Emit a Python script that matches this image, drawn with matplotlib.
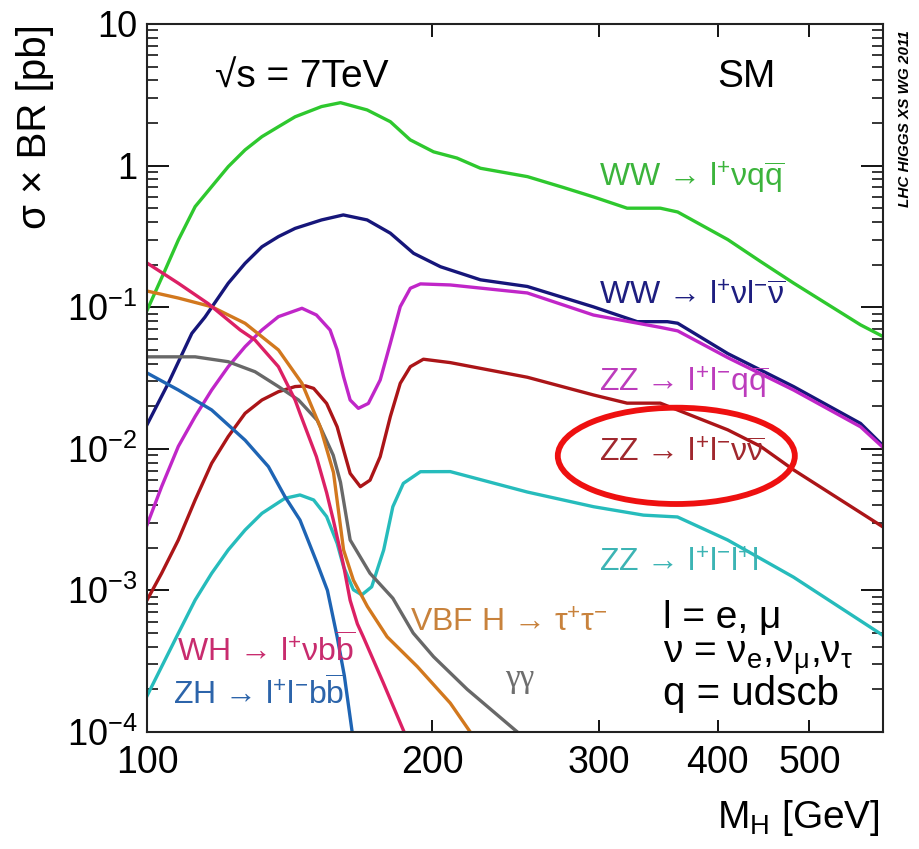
import matplotlib
matplotlib.use('Agg')
import matplotlib.pyplot as plt
from matplotlib.patches import Ellipse
from matplotlib.ticker import FixedLocator, FixedFormatter, NullLocator, NullFormatter, LogLocator

plt.rcParams['font.family'] = ['Liberation Sans', 'DejaVu Sans']
plt.rcParams['mathtext.fontset'] = 'custom'
plt.rcParams['mathtext.rm'] = 'Liberation Sans'
plt.rcParams['mathtext.it'] = 'Liberation Sans'
plt.rcParams['mathtext.bf'] = 'Liberation Sans:bold'

# sigma x BR [pb] versus M_H [GeV]
ww_lvqq_m = [100, 104.5, 107.9, 112.4, 117, 121.8, 126.9, 132.2, 137.6, 143.3, 152.8, 160, 170.7,
             180.6, 189.5, 200.6, 212.3, 224.8, 252, 275, 296, 321, 348, 363, 410, 444, 481, 566, 598]
ww_lvqq_xs = [0.095, 0.183, 0.298, 0.513, 0.71, 0.982, 1.29, 1.60, 1.88, 2.21, 2.61, 2.78, 2.47,
              2.04, 1.52, 1.25, 1.13, 0.957, 0.835, 0.70, 0.60, 0.50, 0.50, 0.47, 0.30, 0.21, 0.148,
              0.075, 0.062]

ww_lvlv_m = [100, 105.3, 111.5, 115.1, 121.8, 126.9, 132.2, 137.6, 143.3, 152.8, 161.1, 170.7,
             180.6, 191.1, 204, 224.8, 251.9, 295.8, 329, 354, 363, 410, 481, 566, 598]
ww_lvlv_xs = [0.0148, 0.029, 0.0653, 0.085, 0.1475, 0.204, 0.267, 0.315, 0.36, 0.413, 0.448, 0.413,
              0.333, 0.24, 0.193, 0.156, 0.14, 0.1005, 0.079, 0.079, 0.077, 0.047, 0.0275, 0.0151, 0.0105]

zz_llqq_m = [100, 103.6, 107.9, 112.4, 117, 121.8, 126.9, 132.2, 137.6, 145.7, 150.9, 156, 158.7,
             161.2, 163.8, 167.1, 171.2, 176.2, 180.6, 185, 189.6, 194.3, 208.9, 251.9, 295.8, 348,
             363, 410, 481, 566, 598]
zz_llqq_xs = [0.0029, 0.0054, 0.0104, 0.0169, 0.026, 0.038, 0.0526, 0.069, 0.0857, 0.0982, 0.0881,
              0.069, 0.0499, 0.0323, 0.0221, 0.0193, 0.0209, 0.0306, 0.0556, 0.1009, 0.136, 0.146,
              0.1435, 0.126, 0.088, 0.072, 0.068, 0.044, 0.026, 0.0143, 0.0102]

zz_llvv_m = [100, 103.6, 107.9, 112.4, 117, 121.8, 126.9, 132.2, 137.6, 143.3, 147, 149.9, 154.7,
             158.7, 161.2, 163.8, 167.9, 171.9, 176.2, 180.6, 185, 189.6, 195.7, 208.9, 251.9, 295.8,
             321, 348, 410, 444, 481, 598]
zz_llvv_xs = [0.000855, 0.00132, 0.00227, 0.00435, 0.0079, 0.0122, 0.0178, 0.0221, 0.0253, 0.0275,
              0.0278, 0.0267, 0.0209, 0.0143, 0.0098, 0.0067, 0.0054, 0.0060, 0.0088, 0.0169, 0.029,
              0.038, 0.0429, 0.0406, 0.032, 0.024, 0.021, 0.021, 0.0136, 0.0104, 0.0071, 0.0028]

zz_4l_m = [100, 103.6, 107.9, 112.4, 117, 121.8, 126.9, 132.2, 139.8, 145, 149.9, 154.7, 158.7,
           161.2, 165.1, 168.5, 172.6, 177.7, 181.7, 186.4, 194.3, 208.9, 251.9, 295.8, 334, 362.8,
           409.8, 481, 598]
zz_4l_xs = [0.00018, 0.000289, 0.000498, 0.000855, 0.00132, 0.00193, 0.00267, 0.0035, 0.00447,
            0.00472, 0.00435, 0.00332, 0.00215, 0.00147, 0.00101, 0.00093, 0.00106, 0.00193, 0.0039,
            0.0057, 0.00689, 0.0069, 0.00495, 0.0039, 0.0034, 0.0033, 0.00227, 0.00124, 0.00048]

wh_m = [100, 107.9, 116, 125.4, 130, 137.6, 143.3, 145, 150.9, 154.7, 157.3, 161.2, 163.8, 166.7,
        169.1, 177.5, 186.4]
wh_xs = [0.205, 0.1475, 0.106, 0.069, 0.0586, 0.038, 0.0221, 0.0178, 0.0088, 0.0049, 0.0031, 0.0015,
         0.00085, 0.00058, 0.00047, 0.000223, 0.000103]

zh_m = [100, 107.9, 117, 126.9, 134.3, 139.8, 145, 151.2, 155, 158.7, 161.5, 164.6]
zh_xs = [0.0343, 0.026, 0.0188, 0.0115, 0.00748, 0.00459, 0.00314, 0.00155, 0.0010, 0.00047,
         0.00025, 0.0001]

vbf_m = [100, 107.9, 117, 126.9, 137.6, 145.7, 152.3, 157.3, 161.2, 165.1, 170.8, 179.2, 192.8,
         208.9, 219.3]
vbf_xs = [0.13, 0.116, 0.1007, 0.0769, 0.0499, 0.029, 0.0143, 0.0068, 0.00193, 0.00118, 0.00077,
          0.00047, 0.00029, 0.00016, 0.0001]

gg_m = [100, 112.4, 121.8, 130, 137.6, 144.5, 151.2, 157.2, 160, 163.8, 171.9, 181.7, 190.9, 200.6,
        217.7, 245.9]
gg_xs = [0.0446, 0.0446, 0.0412, 0.035, 0.0275, 0.0221, 0.0159, 0.0090, 0.0058, 0.00227, 0.00132,
         0.00088, 0.0005, 0.00034, 0.0002, 0.0001]

xtick_vals = [100, 200, 300, 400, 500]
xtick_labels = ['100', '200', '300', '400', '500']
ytick_vals = [1e-4, 1e-3, 1e-2, 1e-1, 1, 10]
ytick_labels = [r'$\mathregular{10^{-4}}$', r'$\mathregular{10^{-3}}$', r'$\mathregular{10^{-2}}$',
                r'$\mathregular{10^{-1}}$', '1', '10']

fig = plt.figure(figsize=(9.19, 8.49), dpi=100)
ax = fig.add_axes([0.160, 0.1378, 0.801, 0.834])

lw = 2.4
ax.plot(ww_lvqq_m, ww_lvqq_xs, color='#2ec82e', lw=lw)
ax.plot(ww_lvlv_m, ww_lvlv_xs, color='#16167a', lw=lw)
ax.plot(zz_llqq_m, zz_llqq_xs, color='#c026c8', lw=lw)
ax.plot(zz_llvv_m, zz_llvv_xs, color='#ab1518', lw=lw)
ax.plot(zz_4l_m, zz_4l_xs, color='#26bcbc', lw=lw)
ax.plot(gg_m, gg_xs, color='#686868', lw=lw)
ax.plot(vbf_m, vbf_xs, color='#d2781e', lw=lw)
ax.plot(wh_m, wh_xs, color='#dc2064', lw=lw)
ax.plot(zh_m, zh_xs, color='#1e64b4', lw=lw)

ax.set_xscale('log')
ax.set_yscale('log')
ax.set_xlim(100, 598)
ax.set_ylim(1e-4, 10)

ax.xaxis.set_major_locator(FixedLocator(xtick_vals))
ax.xaxis.set_major_formatter(FixedFormatter(xtick_labels))
ax.xaxis.set_minor_locator(NullLocator())
ax.yaxis.set_major_locator(FixedLocator(ytick_vals))
ax.yaxis.set_major_formatter(FixedFormatter(ytick_labels))
ax.yaxis.set_minor_locator(LogLocator(base=10, subs=range(2, 10)))
ax.yaxis.set_minor_formatter(NullFormatter())

ax.tick_params(axis='y', which='major', direction='in', length=16, width=1.3,
               left=True, right=True, labelsize=26, pad=7)
ax.tick_params(axis='y', which='minor', direction='in', length=8, width=1.1, left=True, right=True)
ax.tick_params(axis='x', which='major', direction='in', length=9, width=1.3,
               top=True, bottom=True, labelsize=27, pad=9)
for s in ax.spines.values():
    s.set_linewidth(1.5)
    s.set_color('#222222')

# labels next to the curves
lab = 23
ax.text(300, 0.706, r'WW → l$^{+}$νq$\overline{\mathrm{q}}$', color='#3cb43c', fontsize=lab, va='baseline')
ax.text(300, 0.1037, r'WW → l$^{+}$νl$^{-}\overline{\nu}$', color='#1e1e80', fontsize=lab, va='baseline')
ax.text(300, 0.0252, r'ZZ → l$^{+}$l$^{-}$q$\overline{\mathrm{q}}$', color='#bc3cbc', fontsize=lab, va='baseline')
ax.text(300, 0.00807, r'ZZ → l$^{+}$l$^{-}$ν$\overline{\nu}$', color='#a0282e', fontsize=lab, va='baseline')
ax.text(300, 0.00135, r'ZZ → l$^{+}$l$^{-}$l$^{+}$l', color='#3cb4b4', fontsize=lab, va='baseline')
ax.text(189.6, 0.000508, r'VBF H → τ$^{+}$τ$^{-}$', color='#c8823c', fontsize=lab, va='baseline')
ax.text(107.6, 0.000312, r'WH → l$^{+}$νb$\overline{\mathrm{b}}$', color='#c82c6e', fontsize=lab, va='baseline')
ax.text(106.5, 0.000155, r'ZH → l$^{+}$l$^{-}$b$\overline{\mathrm{b}}$', color='#2c64aa', fontsize=lab, va='baseline')
ax.text(238.7, 0.000208, 'γγ', color='#6e6e6e', fontsize=24, va='baseline', family='Liberation Serif')

ax.text(349.9, 0.000545, 'l = e, μ', color='black', fontsize=28, va='baseline')
ax.text(349.9, 0.000305, r'ν = ν$_{\mathrm{e}}$,ν$_{\mu}$,ν$_{\tau}$', color='black', fontsize=28, va='baseline')
ax.text(349.9, 0.000155, 'q = udscb', color='black', fontsize=29, va='baseline')

ax.text(118, 3.53, '√s = 7TeV', color='black', fontsize=28, va='baseline')
ax.text(400, 3.58, 'SM', color='black', fontsize=28, va='baseline')

# red ring around the ZZ -> llvv label
ax.add_patch(Ellipse((0.719, 0.390), 0.322, 0.136, transform=ax.transAxes, fill=False,
                     ec='#ee1010', lw=4.2, clip_on=False, zorder=5))

fig.text(35 / 919, 1 - 127 / 849, 'σ × BR [pb]', rotation=90, fontsize=29, ha='center', va='center')
fig.text(880 / 919, 1 - 818 / 849, r'M$_{\mathrm{H}}$ [GeV]', fontsize=28, ha='right', va='center')
fig.text(905 / 919, 1 - 119 / 849, 'LHC HIGGS XS WG 2011', rotation=90, fontsize=11,
         fontweight='bold', fontstyle='italic', ha='center', va='center')

fig.savefig('out.png', dpi=100)
